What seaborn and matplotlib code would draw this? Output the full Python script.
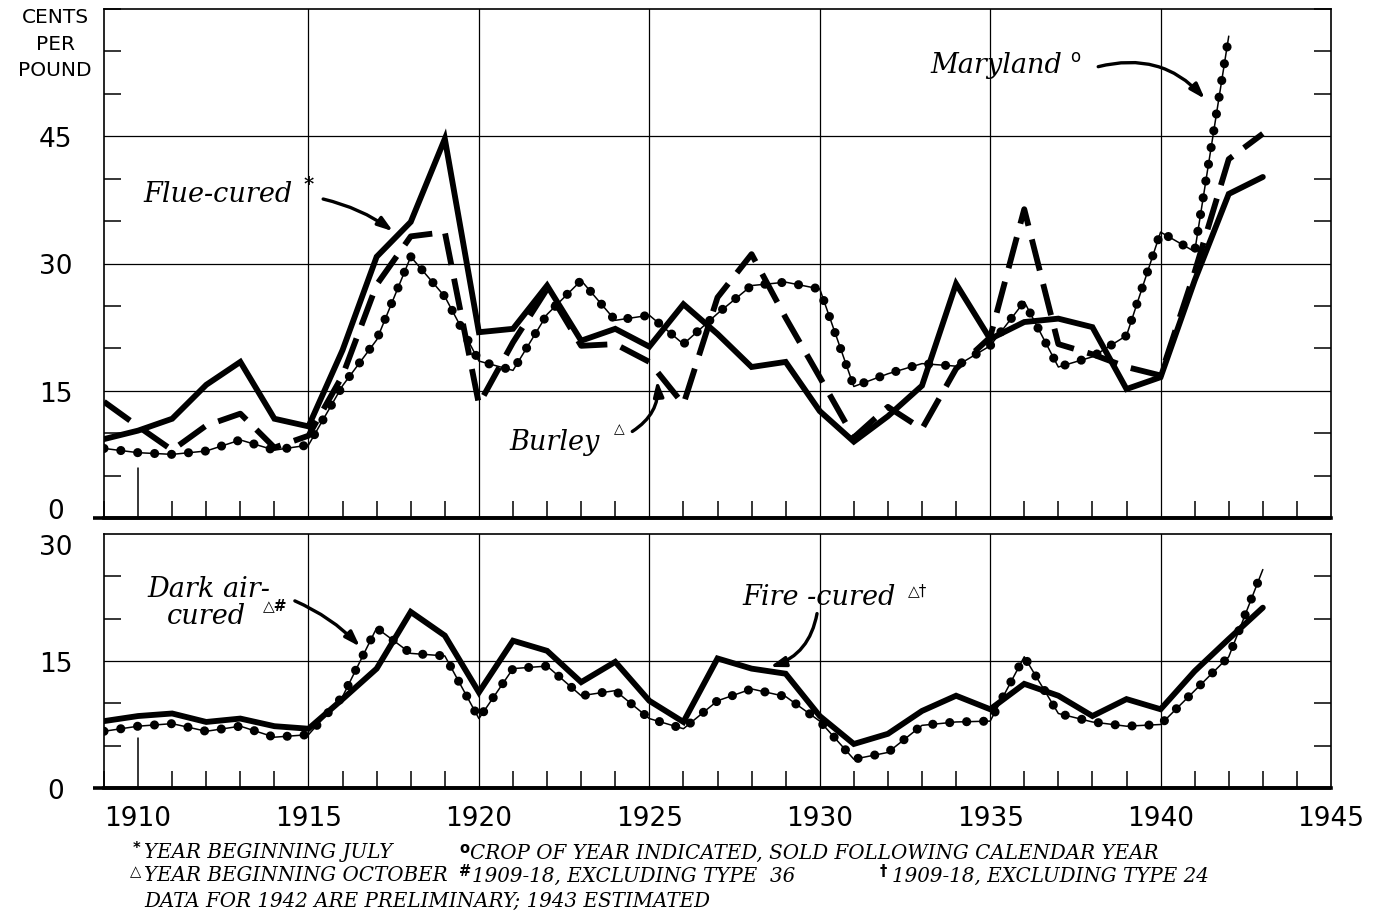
import numpy as np
import pandas as pd
import matplotlib
matplotlib.use("Agg")
import matplotlib.pyplot as plt
import seaborn as sns

# ---------------- data (cents per pound) ----------------
years = list(range(1909, 1944))
flue_cured = [9.3, 10.3, 11.7, 15.7, 18.4, 11.7, 10.8, 19.8, 30.8, 34.9, 44.7,
              21.9, 22.3, 27.4, 20.9, 22.3, 20.2, 25.2, 21.7, 17.8, 18.4, 12.6,
              9.0, 12.0, 15.6, 27.6, 21.1, 23.1, 23.5, 22.5, 15.2, 16.6, 28.0,
              38.2, 40.2]
burley = [13.7, 10.8, 8.0, 10.9, 12.3, 8.3, 9.7, 16.8, 27.5, 33.2, 33.7,
          13.4, 20.7, 27.0, 20.3, 20.5, 18.4, 13.4, 26.0, 31.1, 23.6, 16.6,
          9.5, 13.1, 10.5, 17.6, 21.3, 36.4, 20.5, 19.3, 17.8, 16.8, 29.0,
          42.3, 45.3]
maryland = [8.2, 7.7, 7.5, 7.9, 9.2, 8.0, 8.6, 15.6, 21.0, 30.8, 26.1,
            18.5, 17.4, 24.0, 28.0, 23.3, 23.9, 20.5, 24.1, 27.4, 27.8, 27.0,
            15.5, 17.0, 18.2, 17.9, 20.3, 25.5, 17.8, 19.0, 21.5, 33.7, 31.4,
            56.8, np.nan]
fire_cured = [7.9, 8.5, 8.8, 7.8, 8.2, 7.3, 7.0, 10.5, 14.1, 20.8, 18.0,
              11.3, 17.4, 16.2, 12.5, 14.9, 10.3, 7.8, 15.3, 14.1, 13.5, 8.5,
              5.2, 6.4, 9.1, 10.9, 9.3, 12.3, 10.9, 8.5, 10.5, 9.3, 13.8,
              17.6, 21.3]
dark_air_cured = [6.7, 7.3, 7.6, 6.7, 7.3, 6.0, 6.3, 10.8, 18.9, 15.9, 15.6,
                  8.2, 14.1, 14.4, 10.9, 11.5, 8.2, 7.0, 10.3, 11.7, 10.8, 7.9,
                  3.4, 4.2, 7.4, 7.8, 7.9, 15.5, 8.8, 7.8, 7.3, 7.5, 11.5,
                  15.5, 25.8]

x_tick_years = [1910, 1915, 1920, 1925, 1930, 1935, 1940, 1945]
x_tick_labels = ["1910", "1915", "1920", "1925", "1930", "1935", "1940", "1945"]
grid_years = [1915, 1920, 1925, 1930, 1935, 1940]
top_yticks = [0, 15, 30, 45]
top_ylabels = ["0", "15", "30", "45"]
bot_yticks = [0, 15, 30]
bot_ylabels = ["0", "15", "30"]

top = pd.DataFrame({"year": years, "flue": flue_cured, "burley": burley,
                    "maryland": maryland})
bot = pd.DataFrame({"year": years, "fire": fire_cured, "dark": dark_air_cured})

# ---------------- style ----------------
sns.set_style("white")
plt.rcParams["font.family"] = ["DejaVu Sans"]
SERIF = ["DejaVu Serif"]
SANS = ["DejaVu Sans"]
K = "black"

W, H = 1376, 912
fig = plt.figure(figsize=(W / 100, H / 100), dpi=100)
ax1 = fig.add_axes([104 / W, 1 - 519 / H, 1227 / W, 509 / H])
ax2 = fig.add_axes([104 / W, 1 - 789 / H, 1227 / W, 254 / H])

SOLID_LW = 4.2
DOT_LW = 6.6


def beaded(ax, df, col):
    sns.lineplot(data=df, x="year", y=col, ax=ax, color=K, lw=1.1, zorder=4)
    sns.lineplot(data=df, x="year", y=col, ax=ax, color=K, lw=DOT_LW,
                 linestyle=(0, (0.001, 1.85)), dash_capstyle="round", zorder=4)


# top panel lines
sns.lineplot(data=top, x="year", y="flue", ax=ax1, color=K, lw=SOLID_LW,
             solid_joinstyle="miter", zorder=5)
sns.lineplot(data=top, x="year", y="burley", ax=ax1, color=K, lw=SOLID_LW,
             linestyle=(0, (5.5, 2.4)), dash_capstyle="butt", zorder=5)
beaded(ax1, top, "maryland")

# bottom panel lines
sns.lineplot(data=bot, x="year", y="fire", ax=ax2, color=K, lw=SOLID_LW,
             solid_joinstyle="miter", zorder=5)
beaded(ax2, bot, "dark")


def frame(ax, ymax, yticks, ylabels, top_ax):
    ax.set_xlim(1909, 1945)
    ax.set_ylim(0, ymax)
    ax.set_xlabel("")
    ax.set_ylabel("")
    for s in ax.spines.values():
        s.set_color(K)
        s.set_linewidth(1.2)
    ax.spines["bottom"].set_linewidth(2.6)
    # thick base line running a little beyond the left frame
    ax.plot([-0.009, 1.0], [0, 0], transform=ax.transAxes, color=K, lw=2.6,
            clip_on=False, solid_capstyle="butt", zorder=6)
    # grid
    for yr in grid_years:
        ax.axvline(yr, color=K, lw=0.9, zorder=1)
    for v in yticks[1:]:
        if v < ymax:
            ax.axhline(v, color=K, lw=0.9, zorder=1)
    # long 1910 tick
    frac = 50 / (ax.get_position().height * H)
    ax.axvline(1910, ymin=0, ymax=frac, color=K, lw=1.1, zorder=2)
    # ticks
    ax.set_xticks(x_tick_years)
    ax.set_xticks(range(1909, 1946), minor=True)
    ax.set_yticks(yticks)
    ax.set_yticks(range(0, ymax + 1, 5), minor=True)
    ax.tick_params(axis="both", which="major", length=0, labelcolor=K)
    ax.tick_params(axis="x", which="minor", direction="in", length=12.5,
                   width=1.1, bottom=True, top=False, color=K)
    ax.tick_params(axis="y", which="minor", direction="in", length=12.5,
                   width=1.1, left=True, right=True, color=K)
    ax.set_yticklabels(ylabels, fontsize=19, family=SANS, color=K)
    ax.tick_params(axis="y", which="major", pad=35)
    for lab in ax.get_yticklabels():
        lab.set_horizontalalignment("center")
    if top_ax:
        ax.set_xticklabels([])
    else:
        ax.set_xticklabels(x_tick_labels, fontsize=19, family=SANS, color=K)
        ax.tick_params(axis="x", which="major", pad=12)


frame(ax1, 60, top_yticks, top_ylabels, True)
frame(ax2, 30, bot_yticks, bot_ylabels, False)
# keep the "0" of the upper panel and the "30" of the lower one apart
ax1.get_yticklabels()[0].set_verticalalignment("baseline")
ax2.get_yticklabels()[-1].set_verticalalignment("top")

fig.text(55 / W, 1 - 8 / H, "CENTS\nPER\nPOUND", ha="center", va="top",
         fontsize=14.5, family=SANS, linespacing=1.5, color=K)

# ---------------- annotations ----------------
lab_kw = dict(family=SERIF, style="italic", fontsize=19.5, color=K,
              va="center", ha="left", zorder=7)
sup_kw = dict(family=SERIF, fontsize=14, color=K, va="center", ha="left",
              zorder=7, fontweight="bold")


def arrow(ax, tail, head, rad):
    ax.annotate("", xy=head, xytext=tail,
                arrowprops=dict(arrowstyle="-|>,head_length=0.9,head_width=0.3",
                                lw=2.4, color=K, shrinkA=0, shrinkB=0,
                                connectionstyle=f"arc3,rad={rad}"),
                zorder=7)


ax1.text(1910.15, 38.2, "Flue-cured", **lab_kw)
ax1.text(1914.85, 39.4, "*", **sup_kw)
arrow(ax1, (1915.43, 37.6), (1917.48, 33.8), -0.1)

ax1.text(1933.24, 53.5, "Maryland", **lab_kw)
ax1.text(1937.35, 54.5, "o", family=SANS, fontsize=12, va="center",
         ha="left", color=K)
arrow(ax1, (1938.17, 53.2), (1941.3, 49.4), -0.3)

ax1.text(1920.9, 9.0, "Burley", **lab_kw)
ax1.text(1923.95, 10.6, "\u25b3", family=SANS, fontsize=10, va="center",
         ha="left", color=K)
arrow(ax1, (1924.5, 10.2), (1925.23, 16.2), 0.3)

ax2.text(1910.26, 23.55, "Dark air-", **lab_kw)
ax2.text(1910.85, 20.4, "cured", **lab_kw)
ax2.text(1913.65, 21.6, "\u25b3#", family=SANS, fontsize=11, va="center",
         ha="left", color=K, fontweight="bold")
arrow(ax2, (1914.6, 22.1), (1916.51, 16.7), -0.1)

ax2.text(1927.72, 22.6, "Fire -cured", **lab_kw)
ax2.text(1932.6, 23.4, "\u25b3\u2020", family=SANS, fontsize=11,
         va="center", ha="left", color=K)
arrow(ax2, (1929.92, 20.6), (1928.54, 14.3), -0.3)

# ---------------- footnotes ----------------
fn_kw = dict(family=SERIF, style="italic", fontsize=14.3, color=K,
             va="center", ha="left")
sym_kw = dict(family=SANS, fontsize=10.5, color=K, va="center", ha="left",
              fontweight="bold")


def ftext(x, y, s, **kw):
    fig.text(x / W, 1 - y / H, s, **kw)


ftext(133, 849, "*", **sym_kw)
ftext(144, 853, "YEAR BEGINNING JULY", **fn_kw)
ftext(130, 872, "\u25b3", **sym_kw)
ftext(144, 876, "YEAR BEGINNING OCTOBER", **fn_kw)
ftext(144, 901, "DATA FOR 1942 ARE PRELIMINARY; 1943 ESTIMATED", **fn_kw)
ftext(459, 849, "o", **sym_kw)
ftext(470, 853, "CROP OF YEAR INDICATED, SOLD FOLLOWING CALENDAR YEAR", **fn_kw)
ftext(459, 872, "#", **sym_kw)
ftext(472, 876, "1909-18, EXCLUDING TYPE  36", **fn_kw)
ftext(880, 872, "\u2020", **sym_kw)
ftext(892, 876, "1909-18, EXCLUDING TYPE 24", **fn_kw)

fig.savefig("out.png", dpi=100)
